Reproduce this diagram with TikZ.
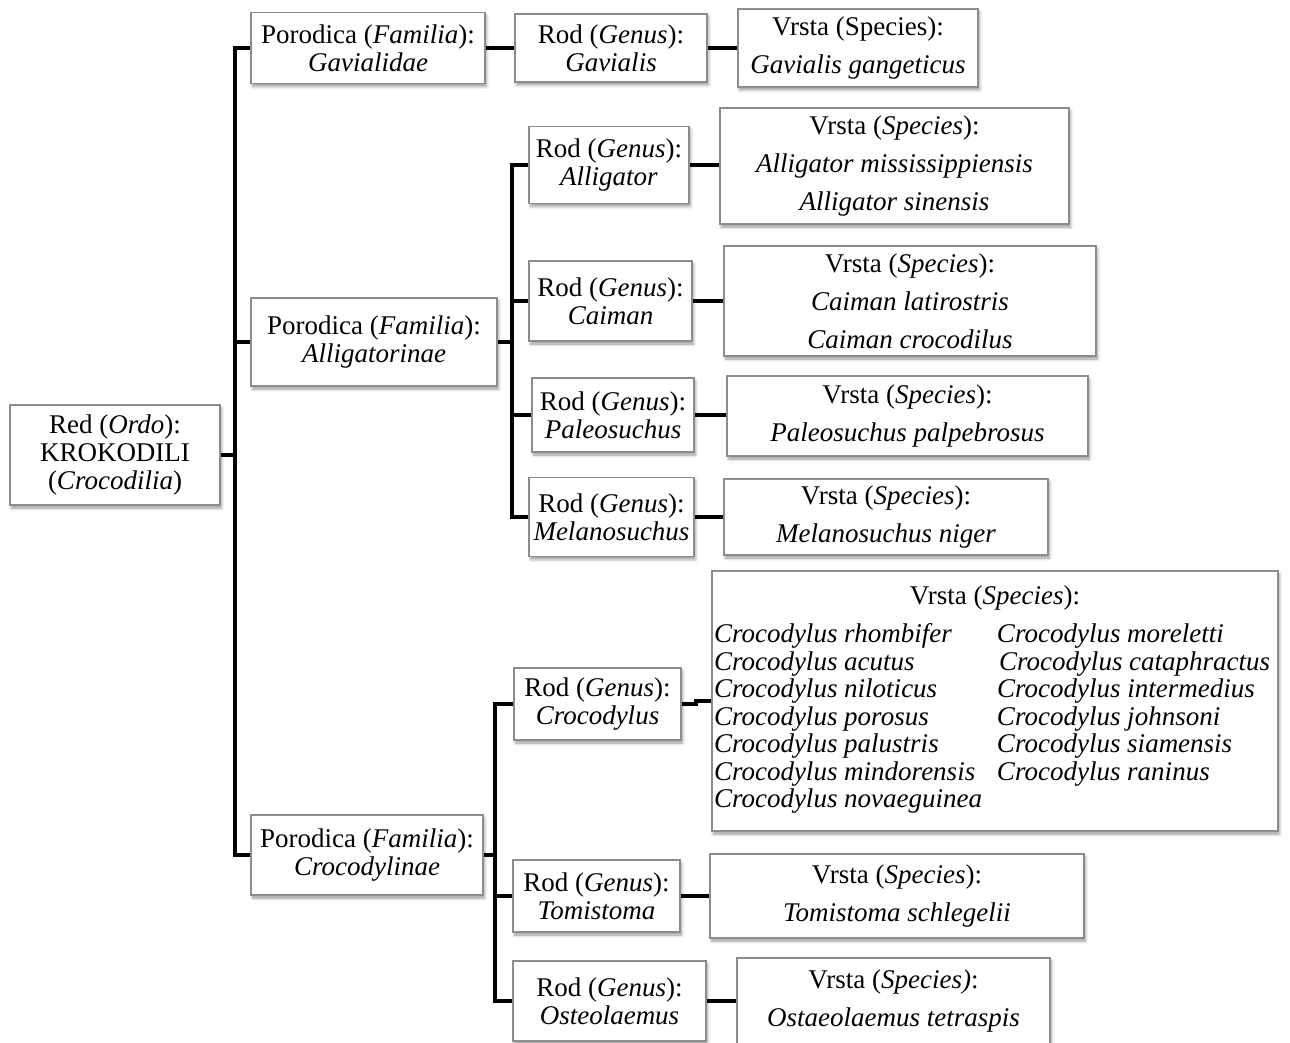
\documentclass[tikz,border=0pt]{standalone}
\usepackage{fontspec}
\setmainfont{Liberation Serif}
\usetikzlibrary{shadows.blur,backgrounds}
\begin{document}
\begin{tikzpicture}[x=1pt,y=-1pt,
  box/.style={draw=black!45, line width=1.1pt, fill=white, inner sep=0pt, align=center,
    font=\fontsize{27}{28}\selectfont,
    blur shadow={shadow xshift=1.5pt, shadow yshift=-3pt, shadow blur radius=3pt, shadow opacity=40}},
  conn/.style={line width=4pt, line join=miter}]
\useasboundingbox (0,0) rectangle (1290,1043);
% order
\node[box, minimum width=210pt, minimum height=100pt] (ordo) at (115,455) {Red (\textit{Ordo}):\\KROKODILI\\(\textit{Crocodilia})};
% families
\node[box, minimum width=234pt, minimum height=71pt] (fgav) at (368,48) {Porodica (\textit{Familia}):\\\textit{Gavialidae}};
\node[box, minimum width=246pt, minimum height=88pt] (fall) at (374,342) {Porodica (\textit{Familia}):\\\textit{Alligatorinae}};
\node[box, minimum width=232pt, minimum height=80pt] (fcro) at (367,855) {Porodica (\textit{Familia}):\\\textit{Crocodylinae}};
% Gavialidae
\node[box, minimum width=192pt, minimum height=68pt] (ggav) at (611,48) {Rod (\textit{Genus}):\\\textit{Gavialis}};
\node[box, minimum width=240pt, minimum height=78pt] (sgav) at (858,48) {Vrsta (Species):\\[10pt]\textit{Gavialis gangeticus}};
% Alligatorinae
\node[box, minimum width=160pt, minimum height=77pt] (gall) at (609,165) {Rod (\textit{Genus}):\\\textit{Alligator}};
\node[box, minimum width=349pt, minimum height=116pt] (sall) at (894.5,166) {Vrsta (\textit{Species}):\\[10pt]\textit{Alligator mississippiensis}\\[10pt]\textit{Alligator sinensis}};
\node[box, minimum width=163pt, minimum height=80pt] (gcai) at (610.5,301) {Rod (\textit{Genus}):\\\textit{Caiman}};
\node[box, minimum width=372pt, minimum height=110pt] (scai) at (910,301) {Vrsta (\textit{Species}):\\[10pt]\textit{Caiman latirostris}\\[10pt]\textit{Caiman crocodilus}};
\node[box, minimum width=162pt, minimum height=74pt] (gpal) at (613,415) {Rod (\textit{Genus}):\\\textit{Paleosuchus}};
\node[box, minimum width=361pt, minimum height=80pt] (spal) at (907.5,416) {Vrsta (\textit{Species}):\\[10pt]\textit{Paleosuchus palpebrosus}};
\node[box, minimum width=165pt, minimum height=79pt] (gmel) at (611.5,517) {Rod (\textit{Genus}):\\\textit{Melanosuchus}};
\node[box, minimum width=324pt, minimum height=76pt] (smel) at (886,517) {Vrsta (\textit{Species}):\\[10pt]\textit{Melanosuchus niger}};
% Crocodylinae
\node[box, minimum width=167pt, minimum height=72pt] (gcrc) at (597.5,704) {Rod (\textit{Genus}):\\\textit{Crocodylus}};
\node[box, minimum width=566pt, minimum height=260pt] (scrc) at (995,701) {Vrsta (\textit{Species}):\\[10pt]%
{\fontsize{27}{27.5}\selectfont\itshape
\begin{tabular}[t]{@{\hspace{2pt}}p{283pt}@{}p{281pt}@{}}
Crocodylus rhombifer & Crocodylus moreletti\\
Crocodylus acutus & \hspace{2pt}Crocodylus cataphractus\\
Crocodylus niloticus & Crocodylus intermedius\\
Crocodylus porosus & Crocodylus johnsoni\\
Crocodylus palustris & Crocodylus siamensis\\
Crocodylus mindorensis & Crocodylus raninus\\
Crocodylus novaeguinea & \\
\end{tabular}}};
\node[box, minimum width=167pt, minimum height=72pt] (gtom) at (596.5,896) {Rod (\textit{Genus}):\\\textit{Tomistoma}};
\node[box, minimum width=374pt, minimum height=84pt] (stom) at (897,896) {Vrsta (\textit{Species}):\\[10pt]\textit{Tomistoma schlegelii}};
\node[box, minimum width=193pt, minimum height=80pt] (gost) at (609.5,1001) {Rod (\textit{Genus}):\\\textit{Osteolaemus}};
\node[box, minimum width=313pt, minimum height=86pt] (sost) at (893.5,1001) {Vrsta (\textit{Species)}:\\[10pt]\textit{Ostaeolaemus tetraspis}};
% branch points
\coordinate (b2) at (512,342);
\coordinate (b3) at (495,855);
\begin{pgfonlayer}{background}
\draw[conn] (fgav.west) -- ++(-15,0) |- (fcro.west);
\draw[conn] (fall.west) -- ++(-15,0);
\draw[conn] (ordo.east) -- ++(16,0);
\draw[conn] (fgav.east) -- (ggav.west);
\draw[conn] (ggav.east) -- (sgav.west);
\draw[conn] (fall.east) -- (b2);
\draw[conn] (gall.west) -- (gall.west -| b2) -- (gmel.west -| b2) -- (gmel.west);
\draw[conn] (gcai.west) -- (gcai.west -| b2);
\draw[conn] (gpal.west) -- (gpal.west -| b2);
\draw[conn] (gall.east) -- (gall.east -| sall.west);
\draw[conn] (gcai.east) -- (scai.west);
\draw[conn] (gpal.east) -- (gpal.east -| spal.west);
\draw[conn] (gmel.east) -- (smel.west);
\draw[conn] (fcro.east) -- (b3);
\draw[conn] (gcrc.west) -- (gcrc.west -| b3) -- (gost.west -| b3) -- (gost.west);
\draw[conn] (gtom.west) -- (gtom.west -| b3);
\draw[conn] (gcrc.east) -- ++(14,0) |- (scrc.west);
\draw[conn] (gtom.east) -- (stom.west);
\draw[conn] (gost.east) -- (sost.west);
\end{pgfonlayer}
\end{tikzpicture}
\end{document}
